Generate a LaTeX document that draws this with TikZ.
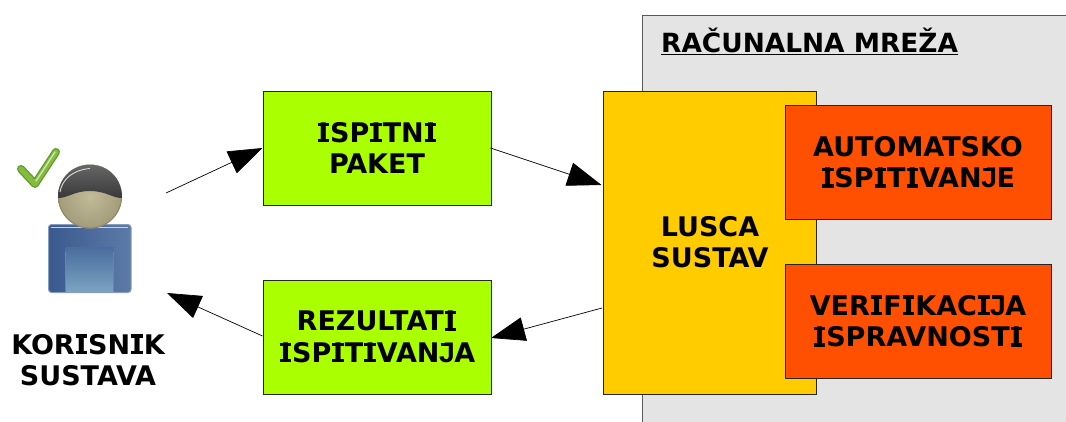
\documentclass[tikz,border=0pt]{standalone}
\usepackage{fontspec}
\setmainfont{DejaVu Sans}
\newfontfamily\jfont[Scale=1.05]{Liberation Sans}
\newcommand\vI{\leavevmode\hbox to .5em{\hss\rlap{\rule{.43em}{.12em}}\rlap{\rule[.609em]{.43em}{.12em}}\hbox to .43em{\hss I\hss}\hss}}
\newcommand\vJ{\leavevmode\hbox to .55em{\hss\rlap{\kern.07em\rule[.609em]{.36em}{.12em}}{\jfont J}\hss}}
\usetikzlibrary{arrows.meta}
\definecolor{netgray}{HTML}{E4E4E4}
\definecolor{lime}{HTML}{AAFF00}
\definecolor{amber}{HTML}{FFCC00}
\definecolor{redor}{HTML}{FF4F00}
\definecolor{shirt}{HTML}{4A6C9E}
\definecolor{shirtl}{HTML}{7AA3C0}
\definecolor{shirtd}{HTML}{3A5A8E}
\definecolor{skin}{HTML}{B5AD88}
\definecolor{skinl}{HTML}{C2BB98}
\definecolor{skind}{HTML}{8E8868}
\definecolor{hair}{HTML}{444444}
\definecolor{tick}{HTML}{84BC3E}
\definecolor{tickd}{HTML}{5E9A28}
\tikzset{
 x=1pt,y=-1pt,
 bx/.style={draw=black!85,line width=0.9pt,anchor=north west,inner sep=0pt,outer sep=0pt,align=center,text=black,font=\bfseries\fontsize{27}{31.5}\selectfont},
 lbl/.style={align=center,text=black,font=\bfseries\fontsize{27}{31.5}\selectfont,inner sep=0pt},
 conn/.style={line width=0.7pt,black,-{Triangle[length=34pt,width=24pt]},shorten >=0pt}
}
\begin{document}
\begin{tikzpicture}
\useasboundingbox (0,0) rectangle (1066,421);
% network panel
\node[draw=black!65,fill=netgray,line width=1pt,anchor=north west,minimum width=430pt,minimum height=412pt,inner sep=0pt,outer sep=0pt] (net) at (642,15) {};
\node[font=\bfseries\fontsize{26.4}{30}\selectfont,anchor=west,inner sep=0pt] (nettitle) at (661,41) {\underline{RAČUNALNA MREŽA}};
% boxes
\node[bx,fill=lime,minimum width=228pt,minimum height=114pt] (pkt) at (263,91) {\vI SP\vI TN\vI\\PAKET};
\node[bx,fill=lime,minimum width=228pt,minimum height=114pt] (rez) at (263,280) {REZULTAT\vI\\\vI SP\vI T\vI VAN\vJ A};
\node[draw=black!85,line width=0.9pt,fill=amber,anchor=north west,minimum width=213pt,minimum height=303pt,inner sep=0pt,outer sep=0pt] (lus) at (603,91) {};
\node[lbl] (lustxt) at (710,242) {LUSCA\\SUSTAV};
\node[bx,fill=redor,minimum width=266pt,minimum height=114pt] (aut) at (785,105) {AUTOMATSKO\\\vI SP\vI T\vI VAN\vJ E};
\node[bx,fill=redor,minimum width=266pt,minimum height=114pt] (ver) at (785,264) {VER\vI F\vI KAC\vI\vJ A\\\vI SPRAVNOST\vI};
\node[lbl] (kor) at (88,360) {KOR\vI SN\vI K\\SUSTAVA};
% user icon
\draw[draw=shirtd!60!white,line width=1pt,rounded corners=3pt,left color=shirtd,right color=shirt!90!white] (48.5,224.5) rectangle (131,292.5);
\shade[top color=shirt,bottom color=shirtl] (65.5,247) rectangle (113.5,291);
\draw[black!50,line width=0.6pt] (65.5,252) -- (65.5,291) (113.5,252) -- (113.5,291);
\draw[white!70!shirt,line width=0.8pt] (51,227) -- (128,227);
\shade[inner color=skinl,outer color=skin!90!black] (90,196.5) circle (32pt);
\draw[skind,line width=1pt] (90,196.5) circle (31.5pt);
\shade[top color=black!60,bottom color=black!78] (58,198) .. controls (58,178) and (72,165) .. (90,165) .. controls (108,165) and (122,178) .. (122,198)
  .. controls (112,198) and (106,191) .. (90,191) .. controls (74,191) and (68,198) .. (58,198) -- cycle;
\draw[white!85!black,line width=0.9pt] (60,192) .. controls (62,180) and (72,170) .. (90,168.5);
% tick
\draw[tickd,line width=8pt,line join=round,line cap=round] (21,169) -- (35,184) -- (56,152);
\draw[tick,line width=5.5pt,line join=round,line cap=round] (21,169) -- (35,184) -- (56,152);
\draw[white!60!tick,line width=1.4pt,line cap=round] (36,181) -- (55,152);
% connectors
\coordinate (u1) at (166,193);
\coordinate (u2) at (167,293);
\coordinate (p1) at (490.5,148);
\coordinate (l1) at (601.5,185);
\coordinate (l2) at (602,308);
\coordinate (r1) at (491,338);
\coordinate (r2) at (262.5,336);
\coordinate (p2) at (262.5,148);
\draw[conn] (u1) -- (p2);
\draw[conn] (p1) -- (l1);
\draw[conn] (l2) -- (r1);
\draw[conn] (r2) -- (u2);
\end{tikzpicture}
\end{document}
